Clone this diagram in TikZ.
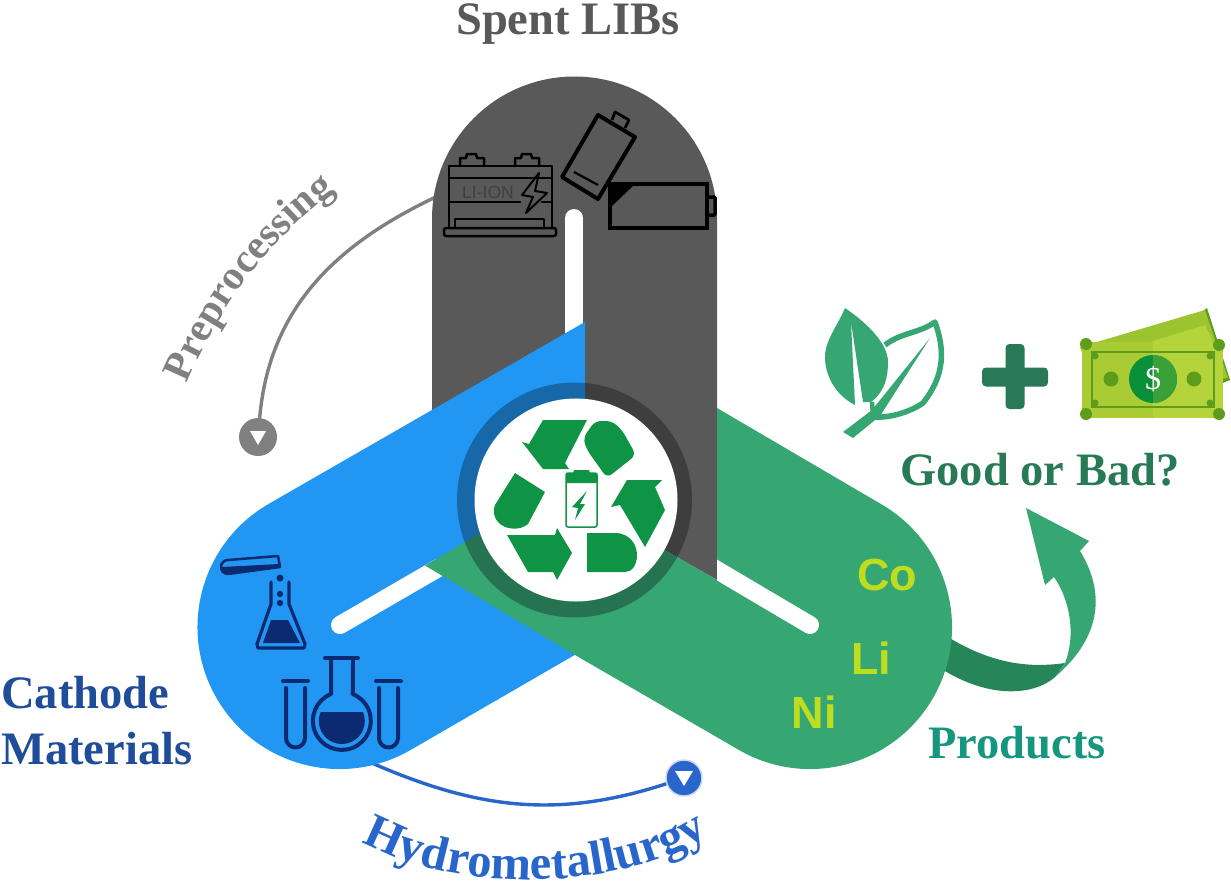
\documentclass[tikz,border=0pt]{standalone}
\usepackage{fontspec}
\setmainfont{Liberation Serif}
\newfontfamily\elemfont{Liberation Sans}
\usetikzlibrary{arrows.meta, positioning, calc, decorations.text}
\definecolor{greyband}{HTML}{595959}
\definecolor{blueband}{HTML}{2196F3}
\definecolor{greenband}{HTML}{36A673}
\definecolor{darkarrow}{HTML}{27855A}
\definecolor{recycle}{HTML}{0F9446}
\definecolor{navy}{HTML}{0B2A6F}
\definecolor{cathode}{HTML}{1F4D99}
\definecolor{hydroblue}{HTML}{2966CC}
\definecolor{prepgrey}{HTML}{808080}
\definecolor{goodgreen}{HTML}{277A55}
\definecolor{prodteal}{HTML}{16967F}
\definecolor{lime}{HTML}{BEDD1E}
\definecolor{billback}{HTML}{9CC42E}
\definecolor{billfront}{HTML}{A9CB34}
\definecolor{billlight}{HTML}{B5D43C}
\definecolor{billdark}{HTML}{5E9C1B}
\definecolor{billcoin}{HTML}{0A8F3A}
\tikzset{
  bigtext/.style={font=\fontsize{46.5}{50}\selectfont\bfseries, inner sep=0pt, anchor=base},
  elemtext/.style={font=\elemfont\fontsize{45}{48}\selectfont\bfseries, text=lime, inner sep=0pt},
  dot/.style={circle, minimum size=#1, inner sep=0pt},
  iconline/.style={line width=2.5pt, line join=round, line cap=round},
  glass/.style={navy, line width=4pt, line join=round, line cap=round},
  slit/.style={white, line width=18pt, line cap=round}
}

\begin{document}
\begin{tikzpicture}[x=1pt, y=1pt]
\useasboundingbox (0,0) rectangle (1231,-886);

% Connectors under the bands
\node[dot=38pt, fill=prepgrey] (prepdot) at (258,-437) {};
\node[dot=36pt, fill=hydroblue, draw=hydroblue!25, line width=1.5pt] (hydrodot) at (684,-778) {};
\coordinate (prepstart) at (440,-195);
\coordinate (hydrostart) at (365,-760);
\draw[prepgrey, line width=3.4pt] (prepstart) to[out=205, in=85] (prepdot);
\draw[hydroblue, line width=3.4pt] (hydrostart) to[out=-24, in=198] (hydrodot);
\fill[white] ($(prepdot)+(-8,6)$) -- ($(prepdot)+(8,6)$) -- ($(prepdot)+(0,-8)$) -- cycle;
\fill[white] ($(hydrodot)+(-9,7)$) -- ($(hydrodot)+(9,7)$) -- ($(hydrodot)+(0,-8)$) -- cycle;

% Arrow out of the green band
\fill[darkarrow] (940,-632) .. controls (990,-665) and (1030,-668) .. (1065,-663)
  -- (1055,-677) .. controls (1035,-695) and (990,-700) .. (940,-668) -- cycle;
\fill[greenband] (1065,-663) .. controls (1076,-635) and (1070,-600) .. (1054,-577)
  -- (1045,-585) -- (1026,-508) -- (1089,-541) -- (1080,-551)
  .. controls (1104,-590) and (1104,-635) .. (1055,-677) -- cycle;

% Grey band
\fill[greyband] (432,-219) arc[start angle=180, end angle=0, radius=142.5]
  -- (717,-580) -- (574,-498) -- (432,-498) -- cycle;
\draw[slit] (574,-218) -- (574,-340);

% Blue band
\fill[blueband] (268.5,-504) -- (585,-322) -- (585,-649) -- (410.5,-750)
  arc[start angle=-60, end angle=-240, radius=142];
\draw[slit] (340,-625) -- (440,-567);

% Green band
\fill[greenband] (739,-750) arc[start angle=-120, end angle=60, radius=142]
  -- (717,-408) -- (717,-580) -- (574,-498) -- (520,-510) -- (425,-565.5) -- (575,-655) -- cycle;
\begin{scope}
  \clip (717,-400) rectangle (900,-700);
  \draw[slit] (810,-625) -- (700,-560);
\end{scope}

% Centre ring and disc
\draw[black, opacity=0.3, line width=19pt] (574.5,-500) circle[radius=108];
\fill[white] (576,-500) circle[radius=101.5];

% Recycling pieces
\fill[recycle] (543,-420) -- (587,-420) -- (565,-463) -- (569,-469)
  -- (543,-469) -- (522,-442) -- (529,-444) -- cycle;
\fill[recycle, rounded corners=6pt] (583,-438) -- (595,-421) -- (612,-421) -- (622,-430)
  -- (636,-455) -- (607,-478) -- (587,-450) -- cycle;
\fill[recycle] (627,-480) -- (662,-480) -- (655,-487) -- (665,-510)
  -- (645,-547) -- (620,-505) -- (611,-507) -- cycle;
\fill[recycle] (587,-533) -- (615,-533) .. controls (630,-533) and (637,-545) .. (637,-555)
  .. controls (637,-565) and (632,-572) .. (625,-572) -- (587,-572) -- cycle;
\fill[recycle] (507,-535) -- (555,-535) -- (557,-528) -- (572,-553)
  -- (557,-580) -- (553,-572) -- (528,-572) -- cycle;
\fill[recycle] (515,-473) -- (545,-492) -- (528,-524) .. controls (520,-531) and (505,-530) .. (498,-522)
  .. controls (493,-516) and (493,-510) .. (495,-505) -- cycle;

% Small battery in the disc
\draw[recycle, line width=1.5pt, rounded corners=2pt] (566,-473) rectangle (597,-527);
\fill[recycle] (566,-483) -- (566,-473) -- (573,-473) -- (574,-470) -- (589,-470)
  -- (590,-473) -- (597,-473) -- (597,-483) -- cycle;
\fill[recycle] (587,-491) -- (580,-504) -- (585,-504) -- (575,-520) -- (578,-508) -- (572,-507) -- cycle;

% Spent batteries
\draw[iconline] (449,-227) -- (449,-166) -- (552,-166) -- (552,-227);
\draw[iconline, rounded corners=2pt] (444,-228) rectangle (556,-236);
\draw[iconline] (455,-228) -- (455,-219) -- (544,-219) -- (544,-228);
\draw[iconline] (460,-166) -- (460,-158) -- (466,-158) -- (467,-154) -- (476,-154) -- (477,-158) -- (484,-158) -- (484,-166);
\draw[iconline] (515,-166) -- (515,-158) -- (521,-158) -- (522,-154) -- (531,-154) -- (532,-158) -- (539,-158) -- (539,-166);
\draw[iconline, line width=1.4pt] (449,-178) -- (552,-178);
\draw[iconline] (449,-202) -- (520,-202) (542,-202) -- (552,-202);
\node[font=\elemfont\fontsize{17.5}{18}\selectfont, text=black!75, inner sep=0pt] (liion) at (488,-192) {LI-ION};
\draw[iconline, line width=2pt] (539,-173) -- (522,-195) -- (533,-197) -- (526,-213) -- (547,-193) -- (535,-191) -- cycle;
\draw[line width=4pt, line join=round] (598,-115) -- (635,-137) -- (598,-199) -- (562,-177) -- cycle;
\draw[line width=2.8pt, line join=round] (612,-120) -- (615,-112) -- (629,-120) -- (625,-128);
\draw[line width=2.2pt] (574,-172) -- (598,-185);
\draw[line width=4.5pt] (610,-184) rectangle (707,-228);
\draw[line width=3.5pt, rounded corners=1pt] (707,-197) -- (715,-197) -- (715,-215) -- (707,-215);
\fill (610,-184) -- (635,-184) -- (612,-206) -- cycle;

% Glassware
\draw[glass, line width=2.5pt] (278,-556) -- (228,-560) arc[start angle=90, end angle=270, radius=7] -- (280,-567) -- cycle;
\fill[navy] (222,-567) -- (279,-564) -- (280,-567) -- (228,-574) arc[start angle=270, end angle=210, radius=7] -- cycle;
\fill[navy] (280,-578) circle[radius=3.5] (280,-594) circle[radius=3.2] (280,-603) circle[radius=3.2];
\draw[glass, line width=3.2pt] (271,-582) -- (271,-604) -- (257,-644) -- (258,-648) -- (304,-648) -- (305,-644) -- (289,-604) -- (289,-582);
\fill[navy] (271,-620) -- (288,-620) -- (300,-643) -- (263,-643) -- cycle;
\draw[glass] (325,-658) -- (358,-658);
\draw[glass] (331,-661) -- (331,-694) arc[start angle=112, end angle=428, radius=29] -- (353,-661);
\fill[navy] (321,-712) -- (363,-712) arc[start angle=23, end angle=-203, radius=23] -- cycle;
\foreach \tubeleft/\tuberight in {286/305, 379/398} {
  \draw[glass] ({\tubeleft-3},-681) -- ({\tuberight+3},-681);
  \draw[glass] (\tubeleft,-688) -- (\tubeleft,-738) arc[start angle=180, end angle=360, radius=9.5] -- (\tuberight,-688);
}

% Leaves
\fill[greenband] (845,-308) .. controls (870,-325) and (888,-345) .. (888,-362)
  .. controls (888,-385) and (880,-395) .. (871,-402) -- (863,-402) -- (851,-322) -- (855,-405)
  .. controls (835,-395) and (825,-375) .. (825,-357) .. controls (825,-340) and (838,-325) .. (845,-308) -- cycle;
\draw[greenband, line width=5.5pt, line join=round] (885,-345) .. controls (900,-333) and (920,-333) .. (935,-322)
  .. controls (945,-350) and (945,-375) .. (923,-403) .. controls (910,-412) and (890,-418) .. (875,-417);
\draw[greenband, line width=4.5pt] (872,-402) -- (873,-416);
\fill[greenband] (843,-432) -- (872,-410) -- (930,-338) -- (880,-416) -- (853,-438) -- cycle;

% Plus sign
\fill[goodgreen, rounded corners=4pt] (982,-367.5) rectangle (1048,-386.5);
\fill[goodgreen, rounded corners=4pt] (1005.5,-344) rectangle (1024.5,-409);

% Banknotes
\fill[billdark] (1207,-308) -- (1230,-380) -- (1218,-385) -- (1190,-320) -- cycle;
\fill[billback] (1080,-347) -- (1205,-310) -- (1228,-378) -- (1100,-400) -- cycle;
\fill[billlight] (1140,-345) -- (1205,-325) -- (1215,-345) -- cycle;
\fill[billfront] (1082,-342) rectangle (1153,-418);
\fill[billlight] (1153,-342) rectangle (1223,-418);
\draw[billdark, line width=1.2pt] (1092,-352) rectangle (1214,-407);
\fill[billdark] (1086,-344) circle[radius=6] (1219,-345) circle[radius=6]
  (1086,-414) circle[radius=6] (1219,-414) circle[radius=6]
  (1095,-356) circle[radius=3.5] (1210,-356) circle[radius=3.5]
  (1095,-403) circle[radius=3.5] (1210,-403) circle[radius=3.5]
  (1111,-379) circle[radius=7.5] (1194,-379) circle[radius=7.5];
\fill[billcoin] (1153,-379) circle[radius=24];
\fill[billcoin!70!billfront] (1153,-355) arc[start angle=90, end angle=-90, radius=24] -- cycle;
\node[font=\fontsize{32}{34}\selectfont, text=white, inner sep=0pt] (dollar) at (1153,-379) {\$};

% Labels
\node[bigtext, text=greyband] (spent) at (568,-34) {Spent LIBs};
\node[bigtext, text=goodgreen] (good) at (1040,-485) {Good or Bad?};
\node[bigtext, text=prodteal] (products) at (1017,-758) {Products};
\node[bigtext, text=cathode, anchor=base west] (cathodetext) at (1,-708) {Cathode};
\node[bigtext, text=cathode, anchor=base west] (materialstext) at (1,-764) {Materials};
\node[elemtext] (co) at (887,-575) {Co};
\node[elemtext] (li) at (871,-658) {Li};
\node[elemtext] (ni) at (814,-712) {Ni};

% Curved labels
\path[decorate, decoration={text along path, text align=center,
  text={|\fontsize{41}{44}\selectfont\bfseries\color{prepgrey}|Preprocessing}}]
  (180,-400) .. controls (215,-310) and (270,-235) .. (350,-180);
\path[decorate, decoration={text along path, text align=center,
  text={|\fontsize{48.5}{52}\selectfont\bfseries\color{hydroblue}|Hydrometallurgy}}]
  (350,-835) .. controls (440,-893) and (620,-898) .. (720,-828);

\end{tikzpicture}
\end{document}
